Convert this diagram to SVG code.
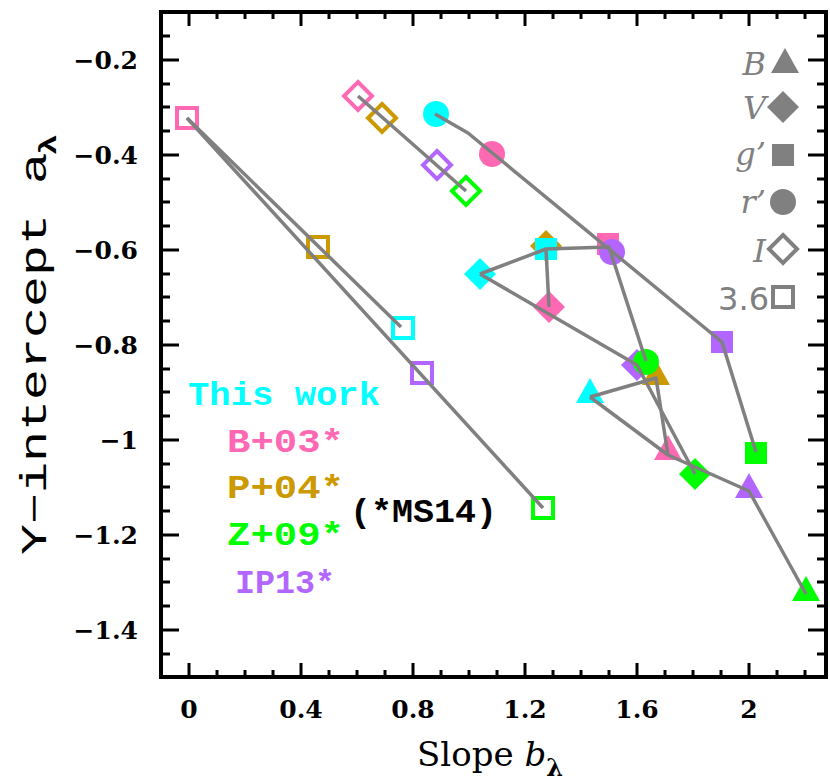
<svg xmlns="http://www.w3.org/2000/svg" width="830" height="781" viewBox="0 0 830 781">
<style>
.ax{stroke:#000;stroke-width:4;fill:none}
.tk{stroke:#000;stroke-width:3}
.tl{font-family:"DejaVu Serif",serif;font-weight:bold;font-size:25px;fill:#000}
.ln{stroke:#808080;stroke-width:3.5;fill:none;stroke-linejoin:round}
.lg{font-family:"Liberation Mono",monospace;font-weight:bold;font-size:34px}
.rl{font-family:"DejaVu Serif",serif;font-style:italic;font-size:32px;fill:#808080}
.o{fill:none;stroke-width:4}
</style>
<defs>
<rect id="sq" x="-11" y="-11" width="22" height="22"/>
<rect id="osq" x="-10" y="-10" width="20" height="20"/>
<polygon id="dm" points="0,-16 16,0 0,16 -16,0"/>
<polygon id="odm" points="0,-14 14,0 0,14 -14,0"/>
<polygon id="tr" points="0,-15 14,10 -14,10"/>
<circle id="ci" r="13"/>
</defs>
<rect width="830" height="781" fill="#fff"/>
<g id="axes">
<rect class="ax" x="161" y="12" width="665" height="665"/>
<path class="tk" d="M189,677v-14M217,677v-7M245,677v-7M273,677v-7M301,677v-14M329,677v-7M357,677v-7M385,677v-7M413,677v-14M441,677v-7M469,677v-7M497,677v-7M525,677v-14M553,677v-7M581,677v-7M609,677v-7M637,677v-14M665,677v-7M693,677v-7M721,677v-7M749,677v-14M777,677v-7M805,677v-7"/>
<path class="tk" d="M189,12v14M217,12v7M245,12v7M273,12v7M301,12v14M329,12v7M357,12v7M385,12v7M413,12v14M441,12v7M469,12v7M497,12v7M525,12v14M553,12v7M581,12v7M609,12v7M637,12v14M665,12v7M693,12v7M721,12v7M749,12v14M777,12v7M805,12v7"/>
<path class="tk" d="M161,36h9M161,60h18M161,84h9M161,107h9M161,131h9M161,155h18M161,179h9M161,202h9M161,226h9M161,250h18M161,274h9M161,297h9M161,321h9M161,345h18M161,369h9M161,392h9M161,416h9M161,440h18M161,464h9M161,487h9M161,511h9M161,535h18M161,559h9M161,582h9M161,606h9M161,630h18M161,654h9"/>
<path class="tk" d="M826,36h-9M826,60h-18M826,84h-9M826,107h-9M826,131h-9M826,155h-18M826,179h-9M826,202h-9M826,226h-9M826,250h-18M826,274h-9M826,297h-9M826,321h-9M826,345h-18M826,369h-9M826,392h-9M826,416h-9M826,440h-18M826,464h-9M826,487h-9M826,511h-9M826,535h-18M826,559h-9M826,582h-9M826,606h-9M826,630h-18M826,654h-9"/>
<g class="tl" text-anchor="end">
<text x="138" y="69">−0.2</text><text x="138" y="164">−0.4</text><text x="138" y="259">−0.6</text><text x="138" y="354">−0.8</text><text x="138" y="449">−1</text><text x="138" y="544">−1.2</text><text x="138" y="639">−1.4</text>
</g>
<g class="tl" text-anchor="middle">
<text x="189" y="718">0</text><text x="301" y="718">0.4</text><text x="413" y="718">0.8</text><text x="525" y="718">1.2</text><text x="637" y="718">1.6</text><text x="749" y="718">2</text>
</g>
<text x="490" y="766" text-anchor="middle" font-family="DejaVu Serif, serif" font-size="34">Slope <tspan font-style="italic">b</tspan><tspan font-size="24" dy="10" font-weight="bold">λ</tspan></text>
<text transform="translate(46,345) rotate(-90)" text-anchor="middle" font-family="Liberation Mono, monospace" font-size="36" textLength="420" lengthAdjust="spacingAndGlyphs">Y−intercept <tspan font-family="Liberation Sans, sans-serif">a</tspan><tspan font-size="24" dy="10" font-weight="bold" font-family="Liberation Sans, sans-serif">λ</tspan></text>
</g>
<g id="markers">
<use href="#osq" x="187" y="118" class="o" stroke="#FF69B4"/>
<use href="#osq" x="318" y="247" class="o" stroke="#CC9900"/>
<use href="#osq" x="403" y="328" class="o" stroke="#00FFFF"/>
<use href="#osq" x="422" y="373" class="o" stroke="#B266FF"/>
<use href="#osq" x="543" y="508" class="o" stroke="#00FF00"/>
<use href="#odm" x="358" y="96" class="o" stroke="#FF69B4"/>
<use href="#odm" x="382" y="118" class="o" stroke="#CC9900"/>
<use href="#odm" x="437" y="165" class="o" stroke="#B266FF"/>
<use href="#odm" x="466" y="191" class="o" stroke="#00FF00"/>
<use href="#ci" x="436" y="114" fill="#00FFFF"/>
<use href="#ci" x="492" y="154" fill="#FF69B4"/>
<use href="#dm" x="546" y="246" fill="#CC9900"/>
<use href="#sq" x="546" y="249" fill="#00FFFF"/>
<use href="#dm" x="480" y="274" fill="#00FFFF"/>
<use href="#dm" x="549" y="307" fill="#FF69B4"/>
<use href="#sq" x="608" y="244" fill="#FF69B4"/>
<use href="#ci" x="612" y="252" fill="#B266FF"/>
<use href="#sq" x="722" y="342" fill="#B266FF"/>
<use href="#sq" x="756" y="453" fill="#00FF00"/>
<use href="#dm" x="637" y="365" fill="#B266FF"/>
<use href="#tr" x="656" y="375" fill="#CC9900"/>
<use href="#ci" x="646" y="362" fill="#00FF00"/>
<use href="#tr" x="590" y="393" fill="#00FFFF"/>
<use href="#tr" x="668" y="450" fill="#FF69B4"/>
<use href="#dm" x="695" y="474" fill="#00FF00"/>
<use href="#tr" x="749" y="488" fill="#B266FF"/>
<use href="#tr" x="806" y="591" fill="#00FF00"/>
</g>
<g id="connectors" class="ln">
<polyline points="187,118 401,327"/>
<polyline points="187,118 543,508"/>
<polyline points="358,96 466,191"/>
<polyline points="435,114 468,133 722,342 756,452"/>
<polyline points="480,274 546,249 609,247 646,361"/>
<polyline points="546,249 549,307"/>
<polyline points="480,274 637,365 695,474"/>
<polyline points="590,397 656,378 668,455"/>
<polyline points="590,397 668,455 749,491 806,594"/>
</g>
<g id="legend-left" class="lg">
<text x="188" y="405" fill="#00FFFF" textLength="192" lengthAdjust="spacingAndGlyphs">This work</text>
<text x="227" y="452" fill="#FF69B4" textLength="117" lengthAdjust="spacingAndGlyphs">B+03*</text>
<text x="227" y="498" fill="#CC9900" textLength="117" lengthAdjust="spacingAndGlyphs">P+04*</text>
<text x="227" y="545" fill="#00FF00" textLength="117" lengthAdjust="spacingAndGlyphs">Z+09*</text>
<text x="235" y="593" fill="#B266FF" textLength="100" lengthAdjust="spacingAndGlyphs">IP13*</text>
<text x="350" y="522" fill="#000" textLength="147" lengthAdjust="spacingAndGlyphs">(*MS14)</text>
</g>
<g id="legend-right" fill="#808080">
<text class="rl" x="766" y="75" text-anchor="end">B</text><use href="#tr" x="785" y="63"/>
<text class="rl" x="766" y="119" text-anchor="end">V</text><polygon points="783,91 799,107 783,123 767,107"/>
<text class="rl" x="766" y="165" text-anchor="end">g’</text><rect x="772" y="144" width="22" height="22"/>
<text class="rl" x="766" y="213" text-anchor="end">r’</text><circle cx="783" cy="202" r="13"/>
<text class="rl" x="766" y="262" text-anchor="end">I</text><polygon points="783,235 797,249 783,263 769,249" fill="none" stroke="#808080" stroke-width="4"/>
<text x="769" y="310" text-anchor="end" font-family="DejaVu Sans, sans-serif" font-size="32" fill="#808080">3.6</text><rect x="773" y="287" width="20" height="20" fill="none" stroke="#808080" stroke-width="4"/>
</g>
</svg>
